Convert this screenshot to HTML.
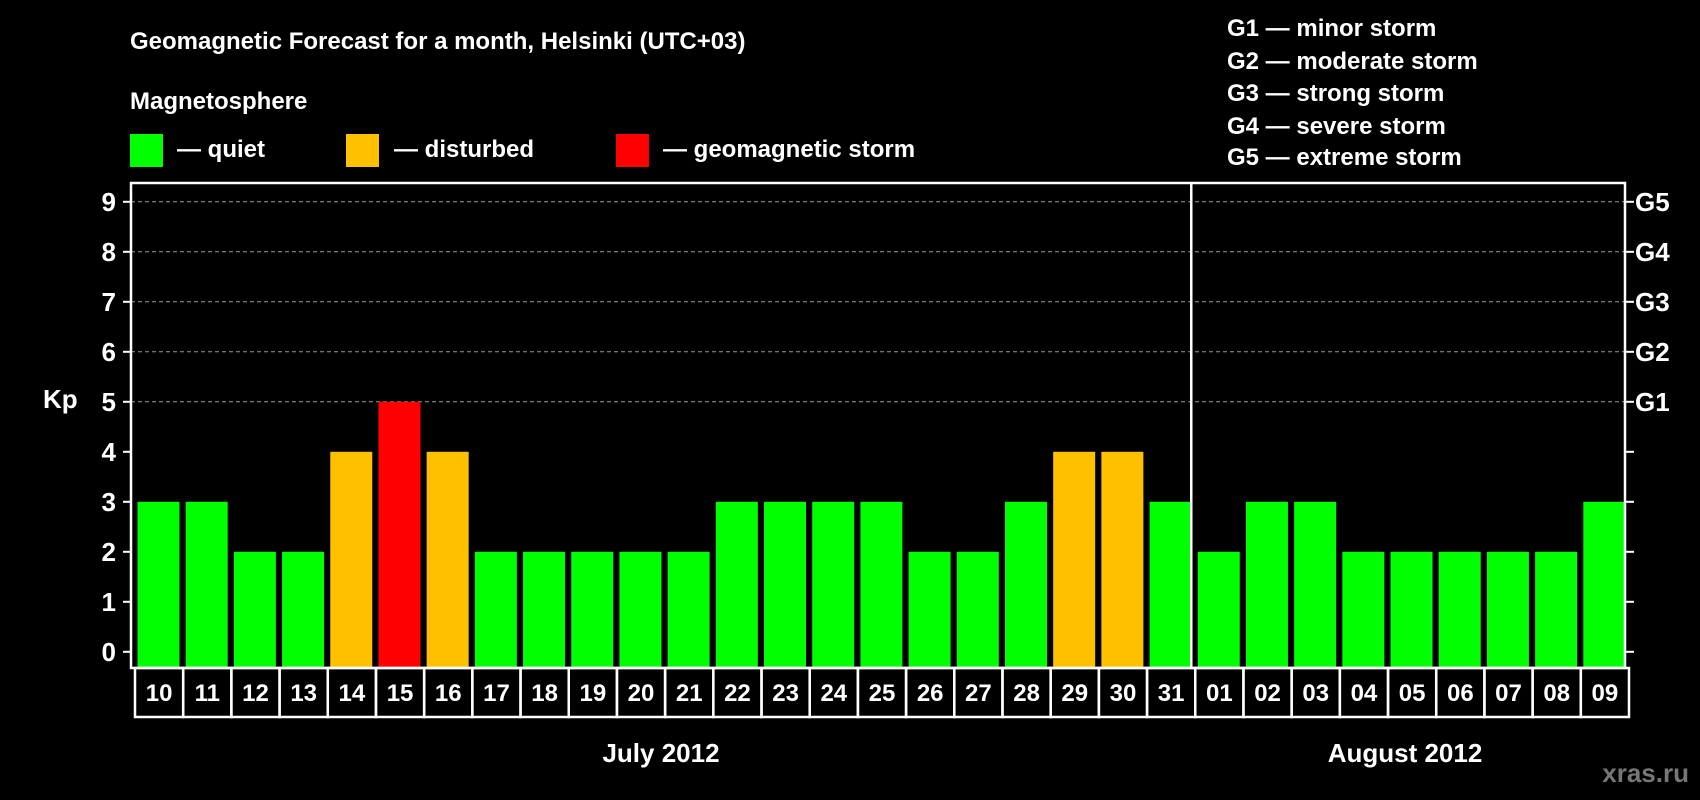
<!DOCTYPE html>
<html><head><meta charset="utf-8"><style>
html,body{margin:0;padding:0;background:#000;}
svg{display:block;font-family:"Liberation Sans",sans-serif;font-weight:bold;}
</style></head><body>
<svg id="chart" width="1700" height="800" viewBox="0 0 1700 800">
<rect width="1700" height="800" fill="#000"/>
<text x="130" y="49" fill="#fff" font-size="24">Geomagnetic Forecast for a month, Helsinki (UTC+03)</text>
<text x="130" y="109" fill="#fff" font-size="24">Magnetosphere</text>
<g>
<rect x="130" y="134" width="33" height="33" fill="#00ff00"/>
<text x="177" y="157" fill="#fff" font-size="24">— quiet</text></g>
<g>
<rect x="346" y="134" width="33" height="33" fill="#ffc000"/>
<text x="394" y="157" fill="#fff" font-size="24">— disturbed</text></g>
<g>
<rect x="616" y="134" width="33" height="33" fill="#ff0000"/>
<text x="663" y="157" fill="#fff" font-size="24">— geomagnetic storm</text></g>
<g fill="#fff" font-size="24">
<text x="1227" y="36">G1 — minor storm</text>
<text x="1227" y="69">G2 — moderate storm</text>
<text x="1227" y="101">G3 — strong storm</text>
<text x="1227" y="134">G4 — severe storm</text>
<text x="1227" y="165">G5 — extreme storm</text>
</g>
<text x="43" y="408" fill="#fff" font-size="26">Kp</text>
<g id="plot"></g>
<text x="661" y="762" fill="#fff" font-size="26" text-anchor="middle">July 2012</text>
<text x="1405" y="762" fill="#fff" font-size="26" text-anchor="middle">August 2012</text>
<text x="1689" y="782" fill="#777" font-size="26" text-anchor="end">xras.ru</text>
</svg>
<script>
const days = ["10","11","12","13","14","15","16","17","18","19","20","21","22","23","24","25","26","27","28","29","30","31","01","02","03","04","05","06","07","08","09"];
const kpValues = [3,3,2,2,4,5,4,2,2,2,2,2,3,3,3,3,2,2,3,4,4,3,2,3,3,2,2,2,2,2,3];
const yTicks = [0,1,2,3,4,5,6,7,8,9];
const gLabels = ["","","","","","G1","G2","G3","G4","G5"];
const monthSplitIndex = 22;

const NS="http://www.w3.org/2000/svg";
const L=131,R=1625,T=183,B=668,Y0=651.8,UNIT=50;
const slot=(R-L)/days.length;
const yS=v=>Y0-v*UNIT;
const xS=i=>L+i*slot;
const g=document.getElementById('plot');
function mk(tag,attrs){const e=document.createElementNS(NS,tag);for(const k in attrs)e.setAttribute(k,attrs[k]);g.appendChild(e);return e;}
function color(v){return v>=5?"#ff0000":(v>=4?"#ffc000":"#00ff00");}

yTicks.forEach((t,i)=>{
  const y=yS(t);
  if(t>=5){const gl=mk('line',{x1:L,x2:R,y1:y,y2:y,stroke:'#999','stroke-width':1,'stroke-dasharray':'4,3'});
  
  }
  const tl=mk('line',{x1:L-8,x2:L,y1:y,y2:y,stroke:'#fff','stroke-width':2});
  
  
  const tr=mk('line',{x1:R,x2:R+9,y1:y,y2:y,stroke:'#fff','stroke-width':2});
  
  
  const lb=mk('text',{x:116,y:y+9,fill:'#fff','font-size':26,'text-anchor':'end'});
  lb.textContent=t;
  
  
  if(gLabels[i]){const gt=mk('text',{x:1635,y:y+9,fill:'#fff','font-size':26});
  gt.textContent=gLabels[i];
  
  }
});

kpValues.forEach((v,i)=>{
  const b=mk('rect',{x:xS(i)+6.5,y:yS(v),width:42,height:B-yS(v),fill:color(v)});
  
  
  const c=mk('rect',{x:xS(i)+4,y:B,width:slot,height:49,fill:'none',stroke:'#fff','stroke-width':2.5});
  
  
  const t=mk('text',{x:xS(i)+4+slot/2,y:B+33,fill:'#fff','font-size':24,'text-anchor':'middle'});
  t.textContent=days[i];
  
  
});

const frame=mk('rect',{x:L,y:T,width:R-L,height:B-T,fill:'none',stroke:'#fff','stroke-width':2.5});


const dv=mk('line',{x1:xS(monthSplitIndex),x2:xS(monthSplitIndex),y1:T,y2:B,stroke:'#fff','stroke-width':2.5});


</script>
</body></html>
